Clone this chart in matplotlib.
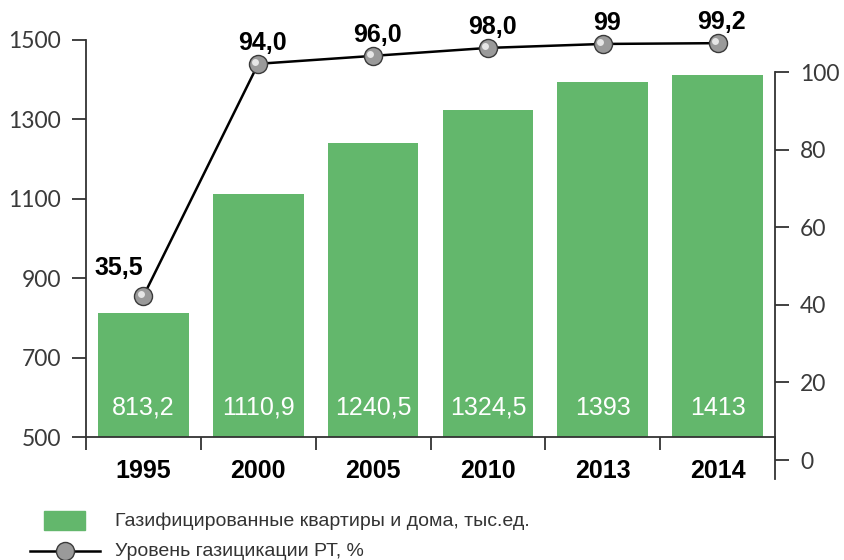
import numpy as np
import matplotlib
matplotlib.use('agg')
import matplotlib.pyplot as plt

# data
years = ['1995', '2000', '2005', '2010', '2013', '2014']
flats = [813.2, 1110.9, 1240.5, 1324.5, 1393, 1413]
flat_labels = ['813,2', '1110,9', '1240,5', '1324,5', '1393', '1413']
gas_level = [35.5, 94.0, 96.0, 98.0, 99, 99.2]
gas_labels = ['35,5', '94,0', '96,0', '98,0', '99', '99,2']

bar_color = '#63b76c'
axis_color = '#333333'
light_font = ['Lato', 'Liberation Sans', 'DejaVu Sans']
bold = {'family': ['Liberation Sans', 'DejaVu Sans'], 'weight': 'bold'}

fig = plt.figure(figsize=(8.44, 5.6), dpi=100)
ax = fig.add_axes([0.1019, 0.2196, 0.8164, 0.709])
x = np.arange(len(years))

ax.bar(x, flats, width=0.79, color=bar_color, zorder=2)
ax.set_xlim(-0.5, 5.5)
ax.set_ylim(500, 1500)
ax.set_yticks(range(500, 1501, 200))
for s in ['top', 'right']:
    ax.spines[s].set_visible(False)
for s in ['left', 'bottom']:
    ax.spines[s].set_color(axis_color)
    ax.spines[s].set_linewidth(1.3)
ax.tick_params(axis='y', direction='out', length=10, width=1.3, color=axis_color,
               pad=8, labelsize=16.5, labelcolor='#3a3a3a')
for t in ax.get_yticklabels():
    t.set_fontfamily(light_font)

ax.set_xticks(x)
ax.set_xticklabels(years, fontsize=18, **bold)
ax.set_xticks(np.arange(-0.5, 5.6, 1), minor=True)
ax.tick_params(axis='x', which='major', length=0, pad=16)
ax.tick_params(axis='x', which='minor', length=9, width=1.3, color=axis_color)

for xi, lab in zip(x, flat_labels):
    ax.annotate(lab, (xi, 500), xytext=(0, 21), textcoords='offset points',
                ha='center', va='center', color='white', fontsize=18,
                family=['Liberation Sans', 'DejaVu Sans'])

# line on a hidden 0-100 scale over the same area
ax2 = ax.twinx()
ax2.set_ylim(0, 100)
ax2.axis('off')
ax2.plot(x, gas_level, color='black', lw=1.8, zorder=3, clip_on=False)
ax2.plot(x, gas_level, 'o', ms=13, mfc='#9a9a9a', mec='#3a3a3a', mew=1.0,
         zorder=4, clip_on=False)
ax2.plot(x - 0.025, np.array(gas_level) + 0.5, 'o', ms=5, mfc='#e6e6e6', mec='none',
         zorder=5, clip_on=False)
for i, (xi, v, lab) in enumerate(zip(x, gas_level, gas_labels)):
    off = (-18, 20) if i == 0 else (3, 15)
    ax2.annotate(lab, (xi, v), xytext=off, textcoords='offset points',
                 ha='center', va='center', fontsize=18, color='black', **bold)

# separate right axis 0-100
ax3 = fig.add_axes([0.1019, 0.1439, 0.8164, 0.7275], facecolor='none')
ax3.set_ylim(-5, 100)
ax3.set_xticks([])
ax3.set_yticks(range(0, 101, 20))
for s in ['top', 'left', 'bottom']:
    ax3.spines[s].set_visible(False)
ax3.spines['right'].set_bounds(-5, 100)
ax3.spines['right'].set_color(axis_color)
ax3.spines['right'].set_linewidth(1.3)
ax3.yaxis.tick_right()
ax3.tick_params(axis='y', direction='out', length=10, width=1.3, color=axis_color,
                pad=8, labelsize=16.5, labelcolor='#3a3a3a')
for t in ax3.get_yticklabels():
    t.set_fontfamily(light_font)

# legend
leg_font = ['Liberation Sans Narrow', 'Liberation Sans', 'DejaVu Sans']
fig.patches.append(plt.Rectangle((44 / 844, 1 - 530 / 560), 41 / 844, 19 / 560,
                                 transform=fig.transFigure, color=bar_color))
fig.text(115 / 844, 1 - 521 / 560, 'Газифицированные квартиры и дома, тыс.ед.',
         fontsize=14, family=leg_font, color='#333333', va='center')
fig.add_artist(plt.Line2D([30 / 844, 100 / 844], [1 - 551 / 560] * 2, color='black',
                          lw=1.8, transform=fig.transFigure))
fig.add_artist(plt.Line2D([65 / 844], [1 - 551 / 560], marker='o', ms=13, mfc='#9a9a9a',
                          mec='#3a3a3a', transform=fig.transFigure))
fig.text(115 / 844, 1 - 551 / 560, 'Уровень газицикации РТ, %',
         fontsize=14, family=leg_font, color='#333333', va='center')

fig.savefig('out.png', dpi=100)
